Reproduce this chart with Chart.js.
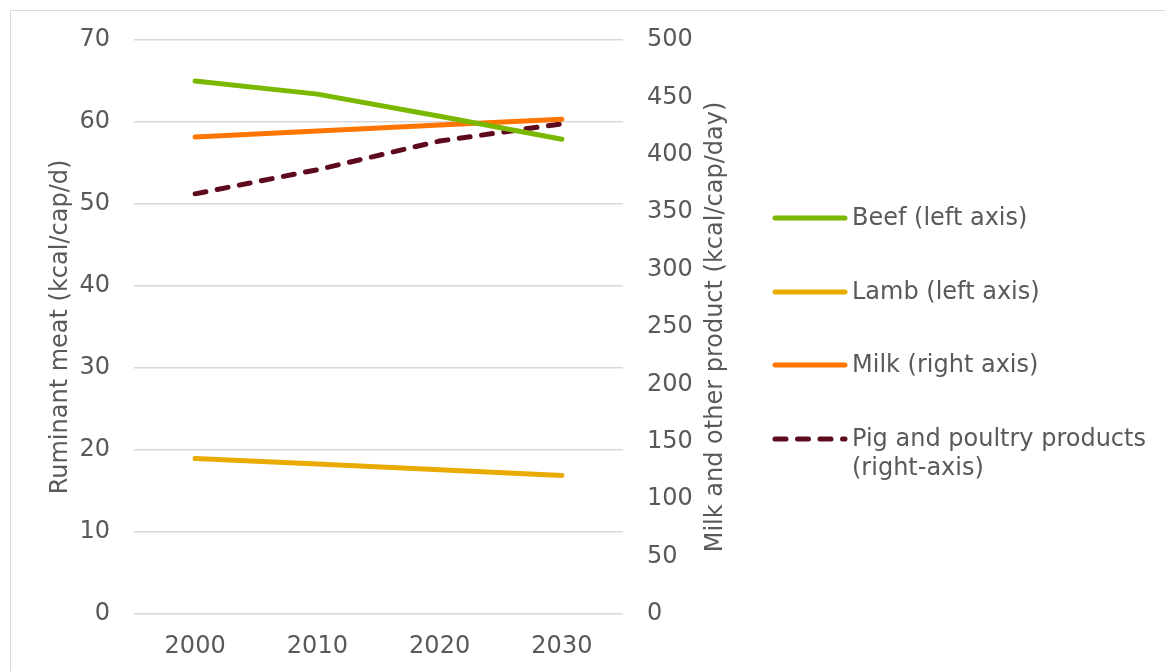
<!DOCTYPE html>
<html>
<head>
<meta charset="utf-8">
<title>Ruminant meat, milk, pig and poultry</title>
<script src="https://cdn.jsdelivr.net/npm/chart.js@4.4.1/dist/chart.umd.min.js"></script>
<style>
  html, body { margin: 0; padding: 0; background: #fff; overflow: hidden; }
  #wrap { position: absolute; left: 0; top: 0; width: 1165px; height: 671px; }
  #frame { position: absolute; left: 10px; top: 10px; width: 1200px; height: 700px;
           border: 1px solid #d9d9d9; box-sizing: border-box; pointer-events: none; }
</style>
</head>
<body>
<div id="wrap">
  <canvas id="meatChart" width="1165" height="671"></canvas>
</div>
<div id="frame"></div>
<script>
const years = ['2000', '2010', '2020', '2030'];

// left axis: kcal/cap/d
const beef = [65.0, 63.4, 60.7, 57.9];
const lamb = [18.95, 18.3, 17.6, 16.9];
// right axis: kcal/cap/day
const milk = [415.5, 420.8, 426.0, 431.0];
const pigPoultry = [366, 387, 412, 427];

const seriesNames = ['Beef (left axis)', 'Lamb (left axis)', 'Milk (right axis)', 'Pig and poultry products (right-axis)'];
const seriesColors = ['#7ab800', '#eaab00', '#ff7500', '#5e0a1e'];

const leftTitle = 'Ruminant meat (kcal/cap/d)';
const rightTitle = 'Milk and other product (kcal/cap/day)';

const FONT = '"DejaVu Sans", Verdana, sans-serif';
const TEXT = '#595959';

// right axis title reads bottom-to-top, so it is drawn here instead of by the scale
const rightAxisTitle = {
    id: 'rightAxisTitle',
    afterDraw(chart, args, opts) {
        const sc = chart.scales.yRight;
        const ctx = chart.ctx;
        ctx.save();
        ctx.font = '24px ' + FONT;
        ctx.fillStyle = TEXT;
        ctx.textAlign = 'center';
        ctx.textBaseline = 'middle';
        ctx.translate(sc.right - opts.inset, (sc.top + sc.bottom) / 2);
        ctx.rotate(-Math.PI / 2);
        ctx.fillText(opts.text, 0, 0);
        ctx.restore();
    }
};

// legend drawn on the right side of the canvas, one row per dataset
const sideLegend = {
    id: 'sideLegend',
    afterDraw(chart, args, opts) {
        const ctx = chart.ctx;
        ctx.save();
        ctx.font = '24px ' + FONT;
        ctx.fillStyle = TEXT;
        ctx.textBaseline = 'middle';
        chart.data.datasets.forEach((ds, i) => {
            const y = opts.rows[i];
            // sample line
            ctx.save();
            ctx.strokeStyle = ds.borderColor;
            ctx.lineWidth = ds.borderWidth;
            ctx.lineCap = 'round';
            ctx.setLineDash(ds.borderDash || []);
            ctx.beginPath();
            ctx.moveTo(opts.x, y);
            ctx.lineTo(opts.x + opts.sample, y);
            ctx.stroke();
            ctx.restore();

            // wrap label by words
            const words = ds.label.split(' ');
            const lines = [];
            let cur = '';
            words.forEach(w => {
                const test = cur ? cur + ' ' + w : w;
                if (ctx.measureText(test).width > opts.maxWidth && cur) {
                    lines.push(cur);
                    cur = w;
                } else {
                    cur = test;
                }
            });
            lines.push(cur);
            lines.forEach((ln, k) => {
                ctx.fillText(ln, opts.x + opts.sample + opts.gap, y + 1 + k * opts.lineHeight);
            });
        });
        ctx.restore();
    }
};

function lineSet(label, data, color, axis, dash) {
    return {
        label: label,
        data: data,
        yAxisID: axis,
        borderColor: color,
        backgroundColor: color,
        borderWidth: 5,
        borderDash: dash || [],
        borderCapStyle: 'round',
        borderJoinStyle: 'round',
        pointRadius: 0,
        pointHoverRadius: 0,
        tension: 0,
        fill: false
    };
}

const ctx = document.getElementById('meatChart').getContext('2d');
const meatChart = new Chart(ctx, {
    type: 'line',
    data: {
        labels: years,
        datasets: [
            lineSet(seriesNames[0], beef, seriesColors[0], 'yLeft'),
            lineSet(seriesNames[1], lamb, seriesColors[1], 'yLeft'),
            lineSet(seriesNames[2], milk, seriesColors[2], 'yRight'),
            lineSet(seriesNames[3], pigPoultry, seriesColors[3], 'yRight', [11, 11.5])
        ]
    },
    options: {
        responsive: false,
        animation: false,
        layout: {
            padding: { left: 46, right: 435, top: 40, bottom: 0 }
        },
        plugins: {
            legend: { display: false },
            tooltip: { enabled: false },
            rightAxisTitle: { text: rightTitle, inset: 14 },
            sideLegend: { x: 775, sample: 70, gap: 7, rows: [218, 292, 365, 439], maxWidth: 305, lineHeight: 29 }
        },
        scales: {
            x: {
                offset: true,
                grid: { display: false, drawTicks: false },
                border: { display: false },
                ticks: { color: TEXT, font: { family: FONT, size: 24 }, padding: 18 },
                afterFit(scale) { scale.height = 57; }
            },
            yLeft: {
                position: 'left',
                min: 0,
                max: 70,
                ticks: { stepSize: 10, color: TEXT, font: { family: FONT, size: 24 }, padding: 24 },
                grid: { color: '#d9d9d9', lineWidth: 1.5, drawTicks: false },
                border: { display: false },
                title: { display: true, text: leftTitle, color: TEXT, font: { family: FONT, size: 24 }, padding: 0 },
                afterFit(scale) { scale.width = 88; }
            },
            yRight: {
                position: 'right',
                min: 0,
                max: 500,
                ticks: { stepSize: 50, color: TEXT, font: { family: FONT, size: 24 }, padding: 24 },
                grid: { display: false, drawTicks: false },
                border: { display: false },
                afterFit(scale) { scale.width = 107; }
            }
        }
    },
    plugins: [rightAxisTitle, sideLegend]
});
</script>
</body>
</html>
